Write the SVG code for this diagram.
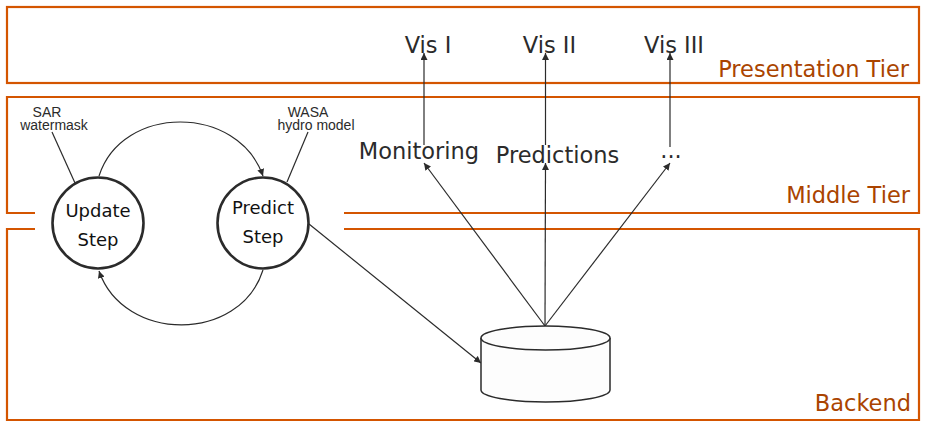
<svg xmlns="http://www.w3.org/2000/svg" width="933" height="430" viewBox="0 0 933 430">
<defs>
<style>
.tier{fill:none;stroke:#d45500;stroke-width:2.2}
.tl{font-family:"DejaVu Sans",sans-serif;font-size:22.5px;fill:#aa4400;text-anchor:end}
.big{font-family:"DejaVu Sans",sans-serif;font-size:22.5px;fill:#2b2b2b;text-anchor:middle}
.node{fill:#fff;stroke:#2b2b2b;stroke-width:2.6}
.nt{font-family:"DejaVu Sans",sans-serif;font-size:18px;fill:#111;text-anchor:middle}
.sm{font-family:"Liberation Sans",Arial,sans-serif;font-size:14px;fill:#2b2b2b;text-anchor:middle}
.c{fill:none;stroke:#2b2b2b;stroke-width:1.2}
.ca{fill:none;stroke:#2b2b2b;stroke-width:1.2;marker-end:url(#ah)}
</style>
<marker id="ah" viewBox="0 0 10 10" refX="10" refY="5" markerWidth="7" markerHeight="7" markerUnits="userSpaceOnUse" orient="auto">
<path d="M0,0 L10,5 L0,10 Z" fill="#2b2b2b"/>
</marker>
</defs>
<rect width="933" height="430" fill="#fff"/>
<g id="presentation-tier">
<rect class="tier" x="7" y="7" width="912" height="76"/>
<text class="tl" x="909" y="77">Presentation Tier</text>
</g>
<g id="middle-tier">
<path class="tier" d="M35 213 H7 V97 H919 V213 H344"/>
<text class="tl" x="910" y="203">Middle Tier</text>
</g>
<g id="backend">
<path class="tier" d="M35 229 H7 V420 H919 V229 H344"/>
<text class="tl" x="911" y="411">Backend</text>
</g>
<g id="connectors">
<path class="c" d="M52 132 L75 183"/>
<path class="c" d="M308 132 L287 182"/>
<path class="ca" d="M99 176 C122 104 238 104 263 176"/>
<path class="ca" d="M263 270 C240 343 124 343 99 271"/>
<path class="ca" d="M309 224 L481 363"/>
<path class="ca" d="M545 326 L424 163"/>
<path class="ca" d="M545 326 L545.5 163"/>
<path class="ca" d="M545 326 L670 163"/>
<path class="ca" d="M424 145 L424 53"/>
<path class="ca" d="M545.5 145 L545.5 53"/>
<path class="ca" d="M670 147 L670 53"/>
</g>
<g id="sar-label">
<text class="sm" x="47" y="117">SAR</text>
<text class="sm" x="54" y="129.5">watermask</text>
</g>
<g id="wasa-label">
<text class="sm" x="308" y="117">WASA</text>
<text class="sm" x="316" y="129.5">hydro model</text>
</g>
<g id="update-step">
<circle class="node" cx="98" cy="223" r="45.5"/>
<text class="nt" x="98" y="217">Update</text>
<text class="nt" x="98" y="246">Step</text>
</g>
<g id="predict-step">
<circle class="node" cx="263" cy="223" r="45.5"/>
<text class="nt" x="263" y="214">Predict</text>
<text class="nt" x="263" y="243">Step</text>
</g>
<g id="database">
<path d="M481 338 V390 A64.5 12 0 0 0 610 390 V338" fill="#fdfdfd" stroke="#2b2b2b" stroke-width="1.5"/>
<ellipse cx="545.5" cy="338" rx="64.5" ry="12" fill="#fdfdfd" stroke="#2b2b2b" stroke-width="1.5"/>
</g>
<g id="monitoring"><text class="big" x="419" y="159">Monitoring</text></g>
<g id="predictions"><text class="big" x="557.5" y="163">Predictions</text></g>
<g id="more"><text class="big" x="671" y="158">...</text></g>
<g id="vis1"><text class="big" x="428" y="53">Vis I</text></g>
<g id="vis2"><text class="big" x="549.5" y="53">Vis II</text></g>
<g id="vis3"><text class="big" x="674" y="53">Vis III</text></g>
</svg>
